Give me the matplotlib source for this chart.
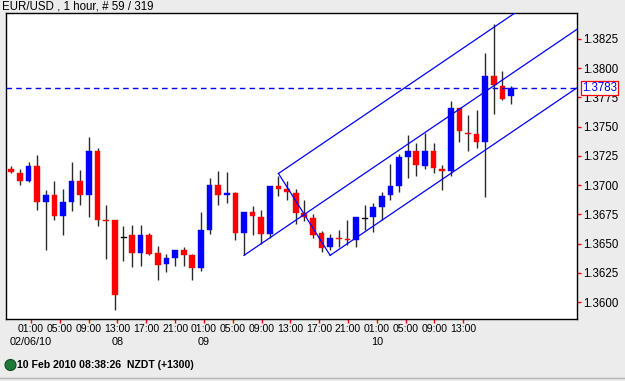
import numpy as np
import matplotlib.pyplot as plt
import matplotlib.transforms as mtransforms
from matplotlib.patches import Rectangle, Ellipse
from matplotlib.lines import Line2D

plt.rcParams['font.family'] = ['Liberation Sans', 'DejaVu Sans']

# Hourly EUR/USD bars, oldest first
opens = [1.3714, 1.3710, 1.3704, 1.3716, 1.3686, 1.3692, 1.3674, 1.3686, 1.3704, 1.3692,
         1.3729, 1.3670, 1.3670, 1.3656, 1.3657, 1.3642, 1.3657, 1.3642, 1.3633, 1.3638,
         1.3645, 1.3640, 1.3629, 1.3662, 1.3700, 1.3692, 1.3693, 1.3659, 1.3677, 1.3673,
         1.3658, 1.3699, 1.3697, 1.3693, 1.3676, 1.3672, 1.3659, 1.3647, 1.3655, 1.3654,
         1.3653, 1.3672, 1.3673, 1.3681, 1.3692, 1.3699, 1.3724, 1.3729, 1.3716, 1.3729,
         1.3714, 1.3712, 1.3766, 1.3745, 1.3744, 1.3737, 1.3793, 1.3785, 1.3776]
highs = [1.3716, 1.3714, 1.3720, 1.3726, 1.3696, 1.3704, 1.3697, 1.3720, 1.3713, 1.3741,
         1.3732, 1.3683, 1.3670, 1.3665, 1.3666, 1.3666, 1.3659, 1.3648, 1.3641, 1.3645,
         1.3647, 1.3641, 1.3677, 1.3706, 1.3712, 1.3711, 1.3694, 1.3677, 1.3682, 1.3679,
         1.3699, 1.3708, 1.3704, 1.3697, 1.3687, 1.3675, 1.3661, 1.3658, 1.3662, 1.3670,
         1.3673, 1.3683, 1.3685, 1.3694, 1.3718, 1.3727, 1.3743, 1.3736, 1.3745, 1.3736,
         1.3717, 1.3772, 1.3766, 1.3760, 1.3764, 1.3813, 1.3838, 1.3798, 1.3785]
lows = [1.3710, 1.3700, 1.3703, 1.3679, 1.3645, 1.3670, 1.3657, 1.3678, 1.3683, 1.3673,
        1.3665, 1.3637, 1.3593, 1.3635, 1.3630, 1.3631, 1.3640, 1.3619, 1.3626, 1.3631,
        1.3631, 1.3619, 1.3627, 1.3658, 1.3683, 1.3685, 1.3653, 1.3640, 1.3657, 1.3650,
        1.3655, 1.3691, 1.3687, 1.3667, 1.3669, 1.3655, 1.3643, 1.3645, 1.3647, 1.3649,
        1.3647, 1.3662, 1.3660, 1.3670, 1.3687, 1.3694, 1.3706, 1.3708, 1.3714, 1.3710,
        1.3696, 1.3708, 1.3737, 1.3729, 1.3732, 1.3690, 1.3761, 1.3773, 1.3769]
closes = [1.3711, 1.3704, 1.3716, 1.3686, 1.3692, 1.3674, 1.3686, 1.3704, 1.3692, 1.3729,
          1.3670, 1.3669, 1.3606, 1.3656, 1.3642, 1.3657, 1.3641, 1.3632, 1.3638, 1.3645,
          1.3640, 1.3629, 1.3662, 1.3700, 1.3692, 1.3693, 1.3659, 1.3677, 1.3674, 1.3658,
          1.3699, 1.3697, 1.3694, 1.3676, 1.3673, 1.3657, 1.3646, 1.3655, 1.3654, 1.3653,
          1.3673, 1.3672, 1.3681, 1.3691, 1.3699, 1.3724, 1.3729, 1.3717, 1.3729, 1.3715,
          1.3712, 1.3766, 1.3746, 1.3744, 1.3737, 1.3793, 1.3786, 1.3774, 1.3783]

current_price = 1.3783

# Andrews pitchfork pivots (bar index, price)
pivot_x = [27, 31, 37]
pivot_y = [1.3640, 1.3710, 1.3640]

# time axis labels
tick_pos = 2.29 + 3.343 * np.arange(16)
tick_hours = ["01:00", "05:00", "09:00", "13:00", "17:00", "21:00",
              "01:00", "05:00", "09:00", "13:00", "17:00", "21:00",
              "01:00", "05:00", "09:00", "13:00"]
tick_dates = ["02/06/10", "", "", "08", "", "", "09", "", "", "", "", "", "10", "", "", ""]

price_ticks = [1.3600, 1.3625, 1.3650, 1.3675, 1.3700, 1.3725, 1.3750, 1.3775, 1.3800, 1.3825]

W, H = 625, 381
fig = plt.figure(figsize=(W / 100, H / 100), dpi=100, facecolor="#ececec")
ax = fig.add_axes([6 / W, 1 - 319 / H, 571 / W, 306 / H])
ax.set_facecolor("white")
ax.set_xlim(-0.62, 65.65)
ax.set_ylim(1.35856, 1.38472)

# candles
body_w = 0.66
for i, (o, h, l, c) in enumerate(zip(opens, highs, lows, closes)):
    ax.plot([i, i], [l, h], color="#2a2a2a", lw=1.0, zorder=2, solid_capstyle="butt")
    if c > o:
        col = "#0000ff"
    elif c < o:
        col = "#ff0000"
    else:
        ax.plot([i - body_w / 2, i + body_w / 2], [o, o], color="black", lw=1.0, zorder=3)
        continue
    ax.add_patch(Rectangle((i - body_w / 2, min(o, c)), body_w, abs(c - o),
                           facecolor=col, edgecolor=col, lw=0.3, zorder=3))

# pitchfork
ax_, bx, cx = pivot_x
ay, by, cy = pivot_y
mx, my = (bx + cx) / 2, (by + cy) / 2
slope = (my - ay) / (mx - ax_)
x_end = 70
for x0, y0 in [(ax_, ay), (bx, by), (cx, cy)]:
    ax.plot([x0, x_end], [y0, y0 + slope * (x_end - x0)], color="#0000ff", lw=0.9, zorder=4)
ax.plot([bx, cx], [by, cy], color="#0000ff", lw=0.9, zorder=4)

# current price line
ax.axhline(current_price, color="#0000ff", lw=1.0, ls=(0, (4, 3)), zorder=4)

# axes styling
for s in ax.spines.values():
    s.set_color("black")
    s.set_linewidth(1.0)

ax.yaxis.tick_right()
ax.set_yticks(price_ticks)
ax.set_yticklabels([f"{v:.4f}" for v in price_ticks])
ax.tick_params(axis="y", direction="out", length=3, width=1, color="red",
               labelcolor="black", labelsize=8.3, pad=1.5)

ax.set_xticks(tick_pos)
ax.set_xticklabels(tick_hours)
ax.tick_params(axis="x", direction="out", length=3, width=1, color="red",
               labelcolor="black", labelsize=7.6, pad=0.6)

# date row under the hour labels
for pos, d in zip(tick_pos, tick_dates):
    if d:
        ax.annotate(d, xy=(pos, 0), xycoords=("data", "axes fraction"),
                    xytext=(0, -22.7), textcoords="offset pixels",
                    ha="center", va="center", fontsize=7.8, color="black",
                    annotation_clip=False)

# current price tag on right axis
trans = mtransforms.blended_transform_factory(ax.transAxes, ax.transData)
ax.text(1.0 + 5 / 571, current_price, f"{current_price:.4f}", transform=trans,
        color="#0000ff", fontsize=8.3, va="center", ha="left", clip_on=False, zorder=10,
        bbox=dict(boxstyle="square,pad=0.12", fc="white", ec="red", lw=0.9))

# header and status bar
fig.text(2 / W, 1 - 6.5 / H, "EUR/USD , 1 hour, # 59 / 319", fontsize=8.3,
         va="center", ha="left", color="black")
fig.add_artist(Ellipse((10.5 / W, 1 - 365 / H), 11 / W, 11 / H,
                       facecolor="#1f7a3a", edgecolor="#0e4a20", lw=0.8))
fig.text(17 / W, 1 - 365 / H, "10 Feb 2010 08:38:26  NZDT (+1300)", fontsize=7.6,
         fontweight="bold", va="center", ha="left", color="black")
fig.add_artist(Line2D([0, 1], [1 - 377.5 / H] * 2, color="#b5b5b5", lw=1.0))

fig.savefig("out.png", dpi=100, facecolor=fig.get_facecolor())
